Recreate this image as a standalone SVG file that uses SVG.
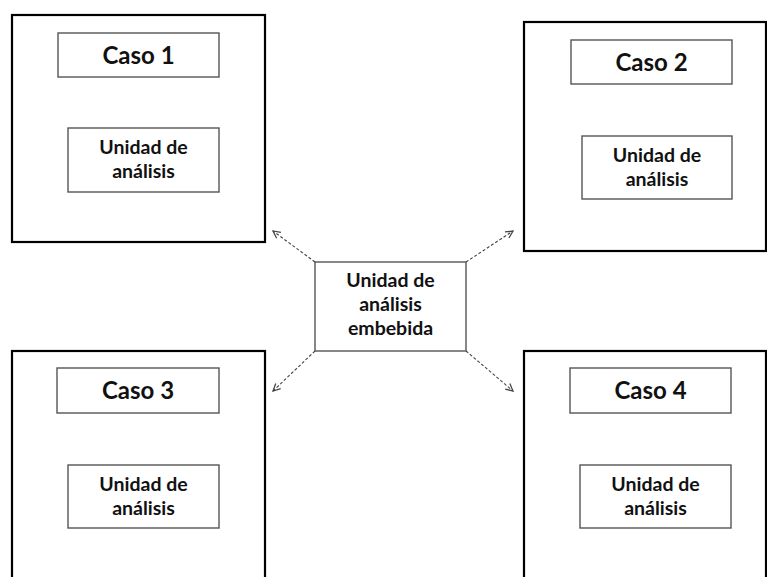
<svg xmlns="http://www.w3.org/2000/svg" width="767" height="577" viewBox="0 0 767 577">
  <style>
    .outer { fill: #fff; stroke: #000; stroke-width: 2.2; }
    .inner { fill: #fff; stroke: #555; stroke-width: 1.4; }
    .title { font-family: "Lato", "Open Sans", sans-serif; font-weight: 700; font-size: 24px; fill: #111; text-anchor: middle; }
    .label { font-family: "Lato", "Open Sans", sans-serif; font-weight: 700; font-size: 19.5px; fill: #111; text-anchor: middle; }
    .conn { fill: none; stroke: #444; stroke-width: 1.1; stroke-dasharray: 3 2; }
  </style>
  <defs>
    <marker id="arrow" viewBox="0 0 10 10" refX="9" refY="5" markerWidth="9" markerHeight="9" markerUnits="userSpaceOnUse" orient="auto">
      <path d="M1 1 L9 5 L1 9" fill="none" stroke="#444" stroke-width="1.4"/>
    </marker>
  </defs>
  <rect width="767" height="577" fill="#fff"/>

  <g id="caso1">
    <rect class="outer" x="12" y="15" width="253" height="227"/>
    <rect class="inner" x="58" y="33" width="161" height="44"/>
    <text class="title" x="138.5" y="63.5">Caso 1</text>
    <rect class="inner" x="68" y="128" width="151" height="64"/>
    <text class="label" x="143.5" y="154">Unidad de</text>
    <text class="label" x="143.5" y="178">análisis</text>
  </g>

  <g id="caso2">
    <rect class="outer" x="524" y="22" width="242" height="229"/>
    <rect class="inner" x="571" y="40" width="161" height="44"/>
    <text class="title" x="651.5" y="70.5">Caso 2</text>
    <rect class="inner" x="582" y="136" width="150" height="63"/>
    <text class="label" x="657" y="162">Unidad de</text>
    <text class="label" x="657" y="186">análisis</text>
  </g>

  <g id="caso3">
    <rect class="outer" x="12" y="351" width="253" height="240"/>
    <rect class="inner" x="57" y="368" width="162" height="45"/>
    <text class="title" x="138" y="399">Caso 3</text>
    <rect class="inner" x="68" y="465" width="151" height="63"/>
    <text class="label" x="143.5" y="491">Unidad de</text>
    <text class="label" x="143.5" y="515">análisis</text>
  </g>

  <g id="caso4">
    <rect class="outer" x="524" y="351" width="242" height="240"/>
    <rect class="inner" x="570" y="368" width="161" height="45"/>
    <text class="title" x="650.5" y="399">Caso 4</text>
    <rect class="inner" x="580" y="465" width="151" height="63"/>
    <text class="label" x="655.5" y="491">Unidad de</text>
    <text class="label" x="655.5" y="515">análisis</text>
  </g>

  <g id="embebida">
    <rect class="inner" x="315" y="262" width="151" height="89"/>
    <text class="label" x="390.5" y="287">Unidad de</text>
    <text class="label" x="390.5" y="311">análisis</text>
    <text class="label" x="390.5" y="335">embebida</text>
  </g>

  <g id="connectors">
    <path class="conn" d="M315 262 L273 231" marker-end="url(#arrow)"/>
    <path class="conn" d="M466 262 L513 231" marker-end="url(#arrow)"/>
    <path class="conn" d="M315 351 L273 391" marker-end="url(#arrow)"/>
    <path class="conn" d="M466 351 L513 391" marker-end="url(#arrow)"/>
  </g>
</svg>
